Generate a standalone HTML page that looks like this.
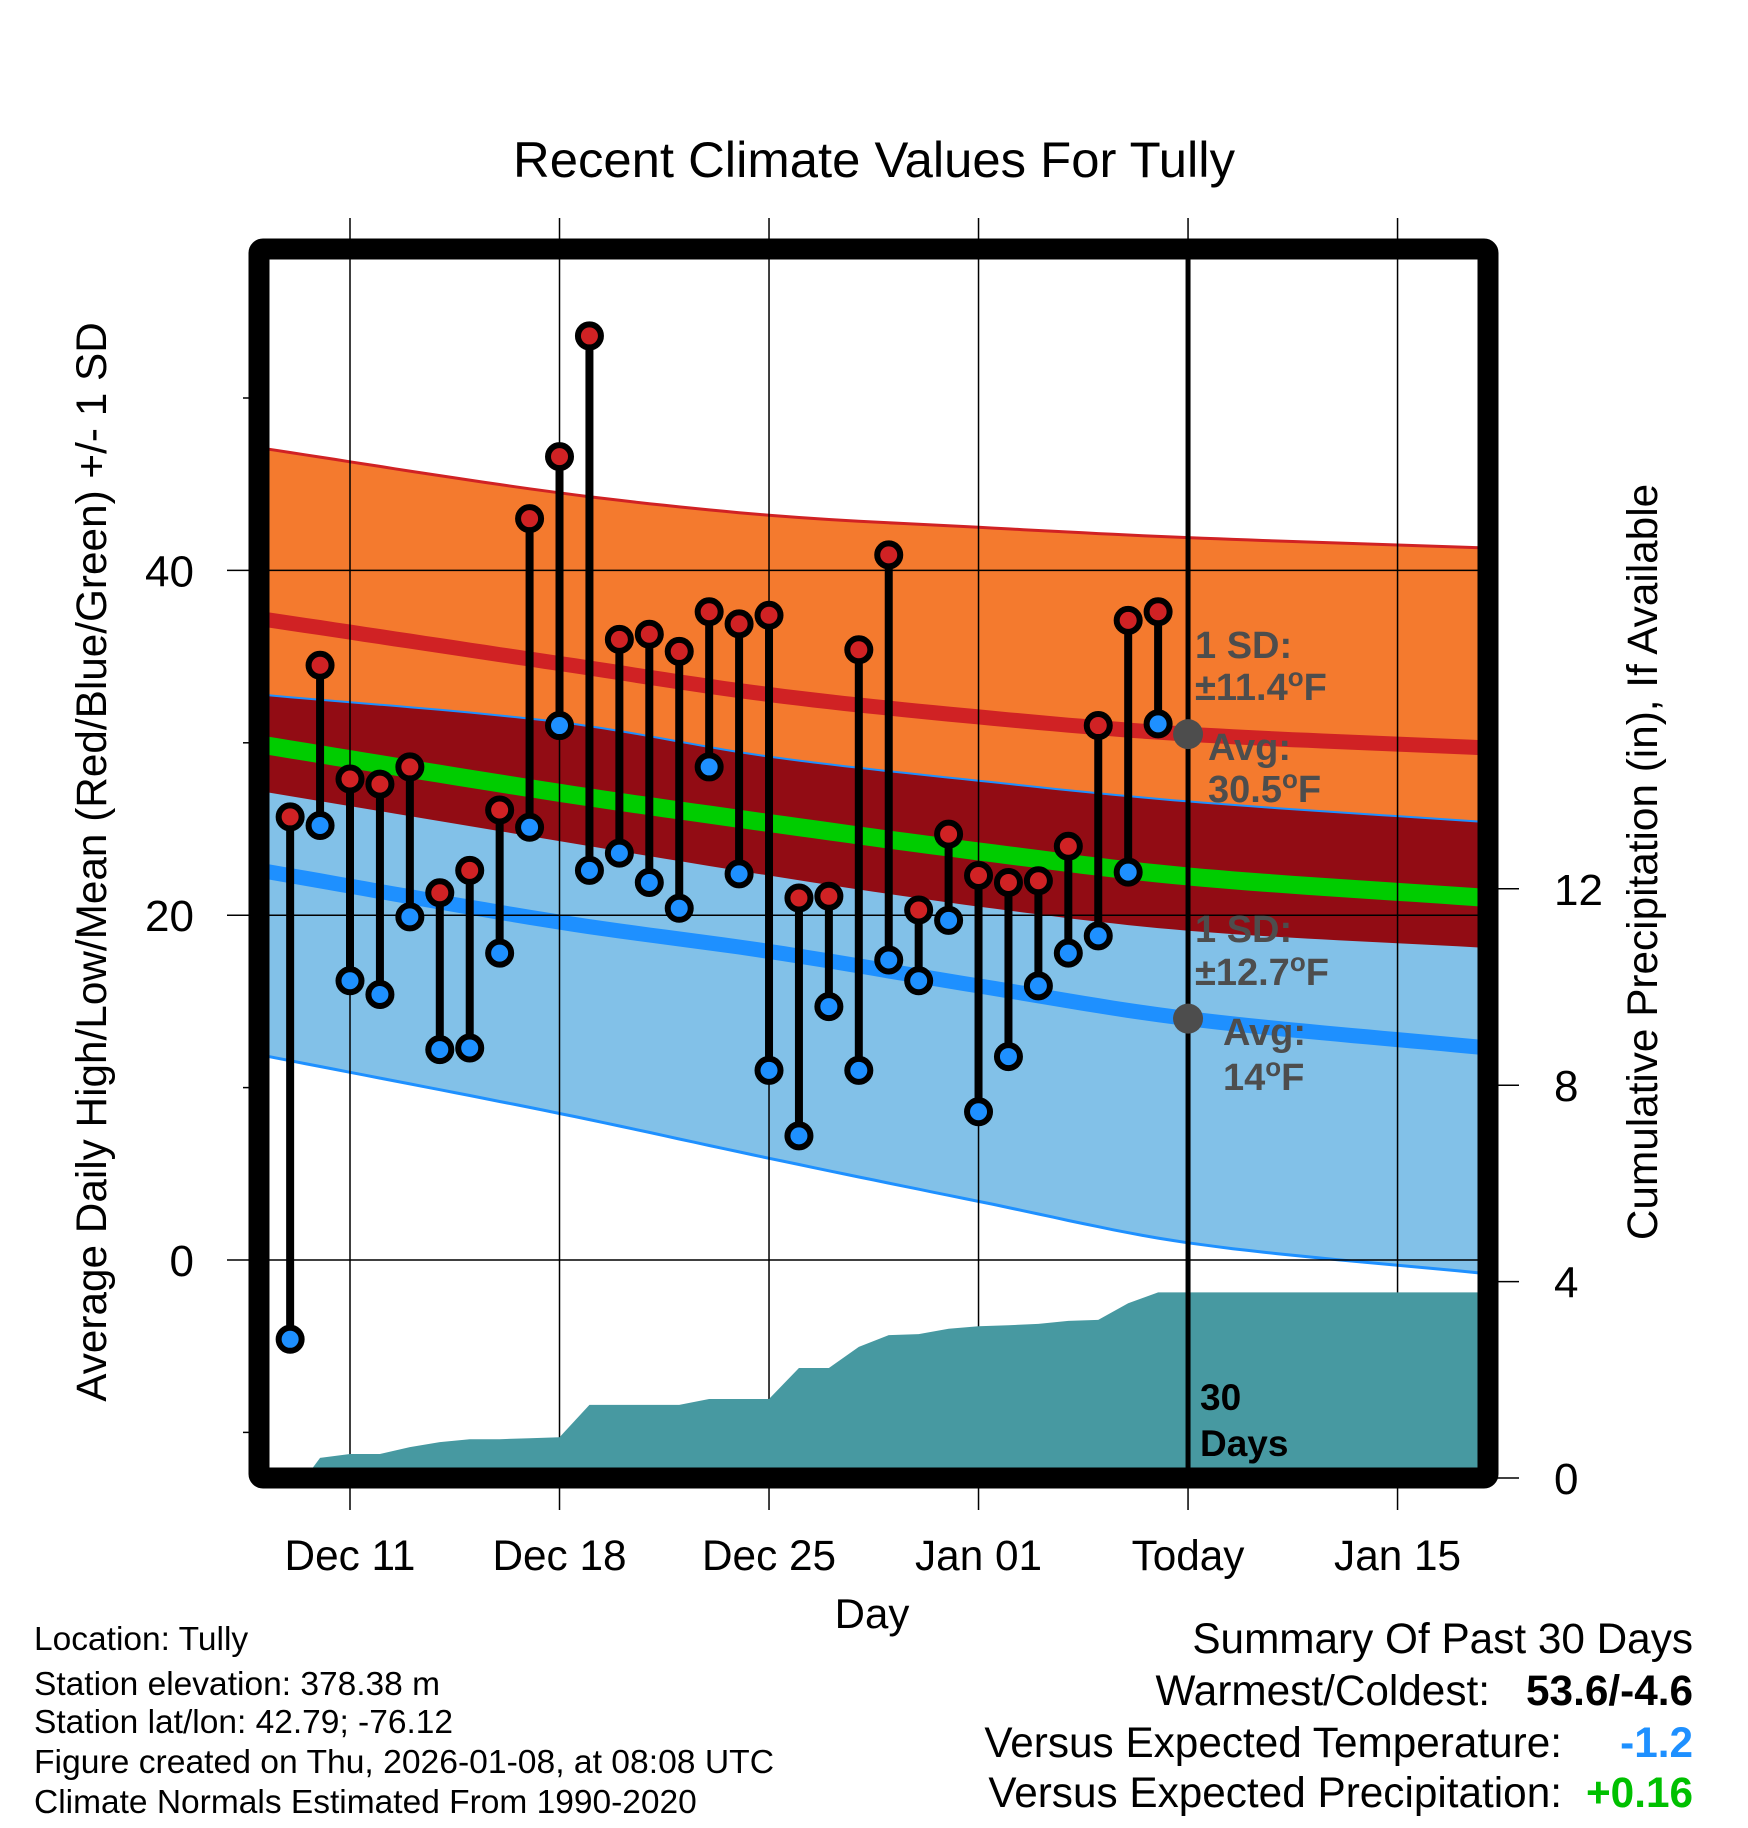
<!DOCTYPE html>
<html><head><meta charset="utf-8"><style>
html,body{margin:0;padding:0;background:#fff;}
svg{display:block;font-family:"Liberation Sans",Arial,sans-serif;}
</style></head><body>
<svg id="chart" xmlns="http://www.w3.org/2000/svg" width="1748" height="1828" viewBox="0 0 1748 1828">
<g id="fills"></g>
<g id="grid"></g>
<g id="precip"></g>
<g id="marks"></g>
<g id="axes"></g>
<text x="874" y="177" font-size="50" text-anchor="middle" textLength="722" lengthAdjust="spacingAndGlyphs">Recent Climate Values For Tully</text>
<text x="872" y="1628" font-size="42" text-anchor="middle">Day</text>
<text transform="translate(106,862) rotate(-90)" font-size="42.3" text-anchor="middle">Average Daily High/Low/Mean (Red/Blue/Green) +/- 1 SD</text>
<text transform="translate(1657,862) rotate(-90)" font-size="42.3" text-anchor="middle">Cumulative Precipitation (in), If Available</text>
<g font-size="33.5">
<text x="34" y="1650">Location: Tully</text>
<text x="34" y="1695">Station elevation: 378.38 m</text>
<text x="34" y="1733">Station lat/lon: 42.79; -76.12</text>
<text x="34" y="1773" textLength="740" lengthAdjust="spacingAndGlyphs">Figure created on Thu, 2026-01-08, at 08:08 UTC</text>
<text x="34" y="1813">Climate Normals Estimated From 1990-2020</text>
</g>
<g font-size="42.3">
<text x="1693" y="1653" text-anchor="end">Summary Of Past 30 Days</text>
<text x="1490" y="1705" text-anchor="end">Warmest/Coldest:</text>
<text x="1693" y="1705" text-anchor="end" font-weight="bold">53.6/-4.6</text>
<text x="1562" y="1757" text-anchor="end">Versus Expected Temperature:</text>
<text x="1693" y="1757" text-anchor="end" font-weight="bold" fill="#1e90ff">-1.2</text>
<text x="1562" y="1807" text-anchor="end">Versus Expected Precipitation:</text>
<text x="1693" y="1807" text-anchor="end" font-weight="bold" fill="#00c000">+0.16</text>
</g>
</svg>
<script>
// data
const dayLabels = ["Dec 11","Dec 18","Dec 25","Jan 01","Today","Jan 15"];
const dayTicks = [0,7,14,21,28,35]; // days since Dec 11
const highs = [25.7,34.5,27.9,27.6,28.6,21.3,22.6,26.1,43.0,46.6,53.6,36.0,36.3,35.3,37.6,36.9,37.4,21.0,21.1,35.4,40.9,20.3,24.7,22.3,21.9,22.0,24.0,31.0,37.1,37.6];
const lows  = [-4.6,25.2,16.2,15.4,19.9,12.2,12.3,17.8,25.1,31.0,22.6,23.6,21.9,20.4,28.6,22.4,11.0,7.2,14.7,11.0,17.4,16.2,19.7,8.6,11.8,15.9,17.8,18.8,22.5,31.1];
const firstDay = -2; // Dec 9
const precip = [0,0.41,0.49,0.49,0.63,0.73,0.79,0.79,0.81,0.83,1.49,1.49,1.49,1.49,1.61,1.61,1.61,2.24,2.24,2.67,2.91,2.93,3.04,3.09,3.11,3.14,3.20,3.22,3.56,3.78];
const normDays = [-3,7,14,21,28,38];
const highUpper = [47.1,44.5,43.2,42.5,41.9,41.3];
const highMean  = [37.2,34.6,32.8,31.5,30.5,29.7];
const highLower = [27.2,24.3,22.3,20.5,19.1,18.1];
const lowUpper  = [32.8,31.2,29.2,27.8,26.6,25.4];
const lowMean   = [22.6,19.6,17.9,15.9,14.0,12.3];
const lowLower  = [11.9,8.5,5.9,3.4,1.0,-0.8];
const leftTicks = [0,20,40];
const leftMinor = [-10,10,30,50];
const rightTicks = [0,4,8,12];

const X0=259,X1=1488,Y0=249,Y1=1478;
const xd = d => 350 + 29.93*d;
const yt = t => 1260 - 17.24*t;
const yp = p => 1478 - 49.1*p;
const NS='http://www.w3.org/2000/svg';
function mk(tag, parent, attrs){const e=document.createElementNS(NS,tag);for(const k in attrs)e.setAttribute(k,attrs[k]);document.getElementById(parent).appendChild(e);return e;}
function interp(arr,d){
  const n=normDays.length;
  for(let i=0;i<n-1;i++){
    if(d<=normDays[i+1]){
      const x0=normDays[i],x1=normDays[i+1],h=x1-x0,f=(d-x0)/h;
      const m=j=>{const a=Math.max(0,j-1),b=Math.min(n-1,j+1);return (arr[b]-arr[a])/(normDays[b]-normDays[a]);};
      const m0=m(i)*h,m1=m(i+1)*h,f2=f*f,f3=f2*f;
      return (2*f3-3*f2+1)*arr[i]+(f3-2*f2+f)*m0+(-2*f3+3*f2)*arr[i+1]+(f3-f2)*m1;
    }
  }
  return arr[n-1];
}
const sd=[];for(let d=-3;d<=38;d+=0.5)sd.push(d);
function line(arr){return sd.map(d=>xd(d).toFixed(1)+','+yt(interp(arr,d)).toFixed(1)).join(' ');}
function band(a,b){return line(a)+' '+sd.slice().reverse().map(d=>xd(d).toFixed(1)+','+yt(interp(b,d)).toFixed(1)).join(' ');}
function minArr(a,b){return a.map((v,i)=>Math.min(v,b[i]));}
const greenMean = highMean.map((v,i)=>(v+lowMean[i])/2);

let e;
e=mk('polygon','fills',{points:band(highUpper,highLower),fill:'#f47a2e'});


e=mk('polygon','fills',{points:band(lowUpper,lowLower),fill:'#82c1e8'});


e=mk('polygon','fills',{points:band(minArr(lowUpper,highUpper),highLower),fill:'#920c14'});


e=mk('polyline','fills',{points:line(highUpper),fill:'none',stroke:'#d02224','stroke-width':3});


e=mk('polyline','fills',{points:line(lowUpper),fill:'none',stroke:'#1e90ff','stroke-width':2});


e=mk('polyline','fills',{points:line(lowLower),fill:'none',stroke:'#1e90ff','stroke-width':3});


e=mk('polyline','fills',{points:line(highMean),fill:'none',stroke:'#d02224','stroke-width':15});


e=mk('polyline','fills',{points:line(lowMean),fill:'none',stroke:'#1e90ff','stroke-width':15});


e=mk('polyline','fills',{points:line(greenMean),fill:'none',stroke:'#00cc00','stroke-width':18});



// grid
dayTicks.forEach((d,i)=>{
  e=mk('line','grid',{x1:xd(d),x2:xd(d),y1:218,y2:1510,stroke:'#000','stroke-width':1.5});
  
  
  e=mk('text','axes',{x:xd(d),y:1570,'font-size':42.3,'text-anchor':'middle'});
  e.textContent=dayLabels[i];
  
  
});
leftTicks.forEach(t=>{
  e=mk('line','grid',{x1:227,x2:X1,y1:yt(t),y2:yt(t),stroke:'#000','stroke-width':1.5});
  
  
  e=mk('text','axes',{x:194,y:yt(t)+16,'font-size':44,'text-anchor':'end'});
  e.textContent=t;
  
  
});
leftMinor.forEach(t=>{
  e=mk('line','grid',{x1:243,x2:X0,y1:yt(t),y2:yt(t),stroke:'#000','stroke-width':1.5});
  
  
});
rightTicks.forEach(p=>{
  e=mk('line','axes',{x1:X1,x2:1519,y1:yp(p),y2:yp(p),stroke:'#000','stroke-width':1.5});
  
  
  e=mk('text','axes',{x:1554,y:yp(p)+16,'font-size':44});
  e.textContent=p;
  
  
});

// precip
let pts=[xd(firstDay+0.5)+','+yp(0)];
precip.forEach((p,i)=>{ if(i>0) pts.push(xd(firstDay+i)+','+yp(p)); });
pts.push(X1+','+yp(precip[precip.length-1]));
pts.push(X1+','+yp(0));
e=mk('polygon','precip',{points:pts.join(' '),fill:'#4799a1'});



// today line
e=mk('line','marks',{x1:xd(28),x2:xd(28),y1:Y0,y2:Y1,stroke:'#000','stroke-width':5});



// daily stems and points
highs.forEach((h,i)=>{
  const x=xd(firstDay+i);
  e=mk('line','marks',{x1:x,x2:x,y1:yt(h),y2:yt(lows[i]),stroke:'#000','stroke-width':8});
  
  
});
highs.forEach((h,i)=>{
  const x=xd(firstDay+i);
  e=mk('circle','marks',{cx:x,cy:yt(h),r:11.5,fill:'#d02224',stroke:'#000','stroke-width':6});
  
  
  e=mk('circle','marks',{cx:x,cy:yt(lows[i]),r:11.5,fill:'#1e90ff',stroke:'#000','stroke-width':6});
  
  
});

// today markers
e=mk('circle','marks',{cx:xd(28),cy:yt(interp(highMean,28)),r:15,fill:'#4d4d4d'});


e=mk('circle','marks',{cx:xd(28),cy:yt(interp(lowMean,28)),r:15,fill:'#4d4d4d'});



// annotations (degree drawn as superscript o)
const ann=[[1195,658,'1 SD:',''],[1195,700,'±11.4','F'],[1208,760,'Avg:',''],[1208,802,'30.5','F'],[1195,942,'1 SD:',''],[1195,985,'±12.7','F'],[1223,1045,'Avg:',''],[1223,1090,'14','F']];
ann.forEach(a=>{
  e=mk('text','marks',{x:a[0],y:a[1],'font-size':38,'font-weight':'bold',fill:'#4d4d4d'});
  
  
  if(a[3]){
    const t1=document.createElementNS(NS,'tspan');t1.textContent=a[2];e.appendChild(t1);
    const t2=document.createElementNS(NS,'tspan');t2.setAttribute('dy','-14');t2.setAttribute('font-size','26');t2.textContent='o';e.appendChild(t2);
    const t3=document.createElementNS(NS,'tspan');t3.setAttribute('dy','14');t3.textContent=a[3];e.appendChild(t3);
  } else e.textContent=a[2];
});
e=mk('text','marks',{x:1200,y:1410,'font-size':37,'font-weight':'bold'});
e.textContent='30';


e=mk('text','marks',{x:1200,y:1456,'font-size':37,'font-weight':'bold'});
e.textContent='Days';



// frame
e=mk('rect','axes',{x:X0,y:Y0,width:X1-X0,height:Y1-Y0,fill:'none',stroke:'#000','stroke-width':21,rx:4});


</script>
</body></html>
